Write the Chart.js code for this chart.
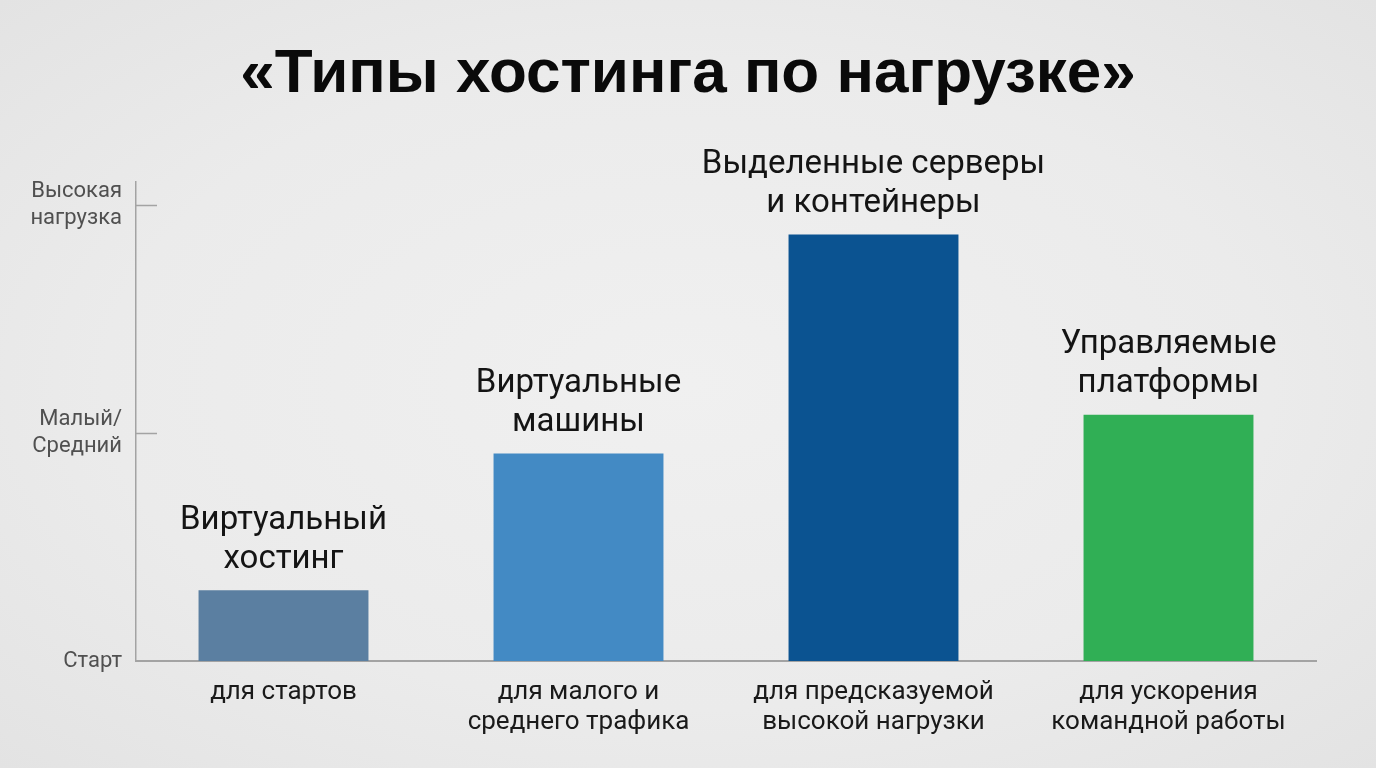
<!DOCTYPE html>
<html>
<head>
<meta charset="utf-8">
<script src="https://cdn.jsdelivr.net/npm/chart.js@4.4.1/dist/chart.umd.min.js"></script>
<style>
  html, body { margin: 0; padding: 0; }
  body {
    width: 1376px; height: 768px; overflow: hidden;
    background: radial-gradient(ellipse at center, #f0f0f0 0%, #ebebeb 60%, #e3e3e3 100%);
  }
  #title {
    position: absolute; left: 0; top: 34px; width: 1376px; text-align: center;
    font-family: 'Liberation Sans', Arial, sans-serif; font-weight: bold; font-size: 62px;
    line-height: 74px; color: #0a0a0a; margin: 0;
  }
  #wrap { position: absolute; left: 0; top: 0; width: 1376px; height: 768px; }
</style>
</head>
<body>
<div id="title"></div>
<div id="wrap"><canvas id="barChart"></canvas></div>
<script>
var titleText = "«Типы хостинга по нагрузке»";
var categories = [
    ["для стартов"],
    ["для малого и", "среднего трафика"],
    ["для предсказуемой", "высокой нагрузки"],
    ["для ускорения", "командной работы"]
];
var barLabels = [
    ["Виртуальный", "хостинг"],
    ["Виртуальные", "машины"],
    ["Выделенные серверы", "и контейнеры"],
    ["Управляемые", "платформы"]
];
var loadValues = [0.31, 0.91, 1.87, 1.08];
var barColors = ["#5b7fa1", "#438ac4", "#0b5391", "#30af55"];
var yTickValues = [0, 1, 2];
var yTickLabels = [["Старт"], ["Малый/", "Средний"], ["Высокая", "нагрузка"]];

var font = "Roboto, 'Liberation Sans', sans-serif";
document.getElementById("title").textContent = titleText;

// labels above each bar + inward tick marks on the y axis
var extras = {
    id: "extras",
    afterDatasetsDraw: function(chart) {
        var ctx = chart.ctx;
        var meta = chart.getDatasetMeta(0);
        ctx.save();
        ctx.fillStyle = "#141414";
        ctx.font = "33px " + font;
        ctx.textAlign = "center";
        ctx.textBaseline = "middle";
        meta.data.forEach(function(bar, i) {
            var lines = barLabels[i];
            for (var k = 0; k < lines.length; k++) {
                var y = bar.y - 31 - (lines.length - 1 - k) * 39;
                ctx.fillText(lines[k], bar.x, y);
            }
        });
        var ys = chart.scales.y;
        ctx.strokeStyle = "#a3a3a3";
        ctx.lineWidth = 1.5;
        yTickValues.forEach(function(v) {
            if (v === 0) return;
            var py = Math.round(ys.getPixelForValue(v)) + 0.5;
            ctx.beginPath();
            ctx.moveTo(chart.chartArea.left, py);
            ctx.lineTo(chart.chartArea.left + 21, py);
            ctx.stroke();
        });
        ctx.restore();
    }
};

var ctx = document.getElementById("barChart");
var myBarChart = new Chart(ctx, {
    type: "bar",
    data: {
        labels: categories,
        datasets: [{
            data: loadValues,
            backgroundColor: barColors,
            borderWidth: 0,
            categoryPercentage: 1,
            barPercentage: 0.576
        }]
    },
    options: {
        responsive: true,
        maintainAspectRatio: false,
        animation: false,
        layout: { padding: { left: 0, right: 60, top: 182, bottom: 0 } },
        plugins: {
            legend: { display: false },
            tooltip: { enabled: false }
        },
        scales: {
            x: {
                grid: { display: false, drawTicks: false },
                border: { display: true, color: "#a3a3a3", width: 2 },
                ticks: {
                    color: "#1a1a1a",
                    font: { family: font, size: 26, lineHeight: 1.17 },
                    padding: 16,
                    maxRotation: 0,
                    autoSkip: false
                },
                afterFit: function(scale) { scale.height = 107; }
            },
            y: {
                min: 0,
                max: 2.1,
                grid: { display: false, drawTicks: false },
                border: { display: true, color: "#a3a3a3", width: 1.5 },
                afterBuildTicks: function(scale) {
                    scale.ticks = yTickValues.map(function(v) { return { value: v }; });
                },
                ticks: {
                    color: "#505050",
                    font: { family: font, size: 22, lineHeight: 1.2 },
                    padding: 14,
                    callback: function(value) {
                        var i = yTickValues.indexOf(value);
                        return i >= 0 ? yTickLabels[i] : "";
                    }
                },
                afterFit: function(scale) { scale.width = 136; }
            }
        }
    },
    plugins: [extras]
});
</script>
</body>
</html>
